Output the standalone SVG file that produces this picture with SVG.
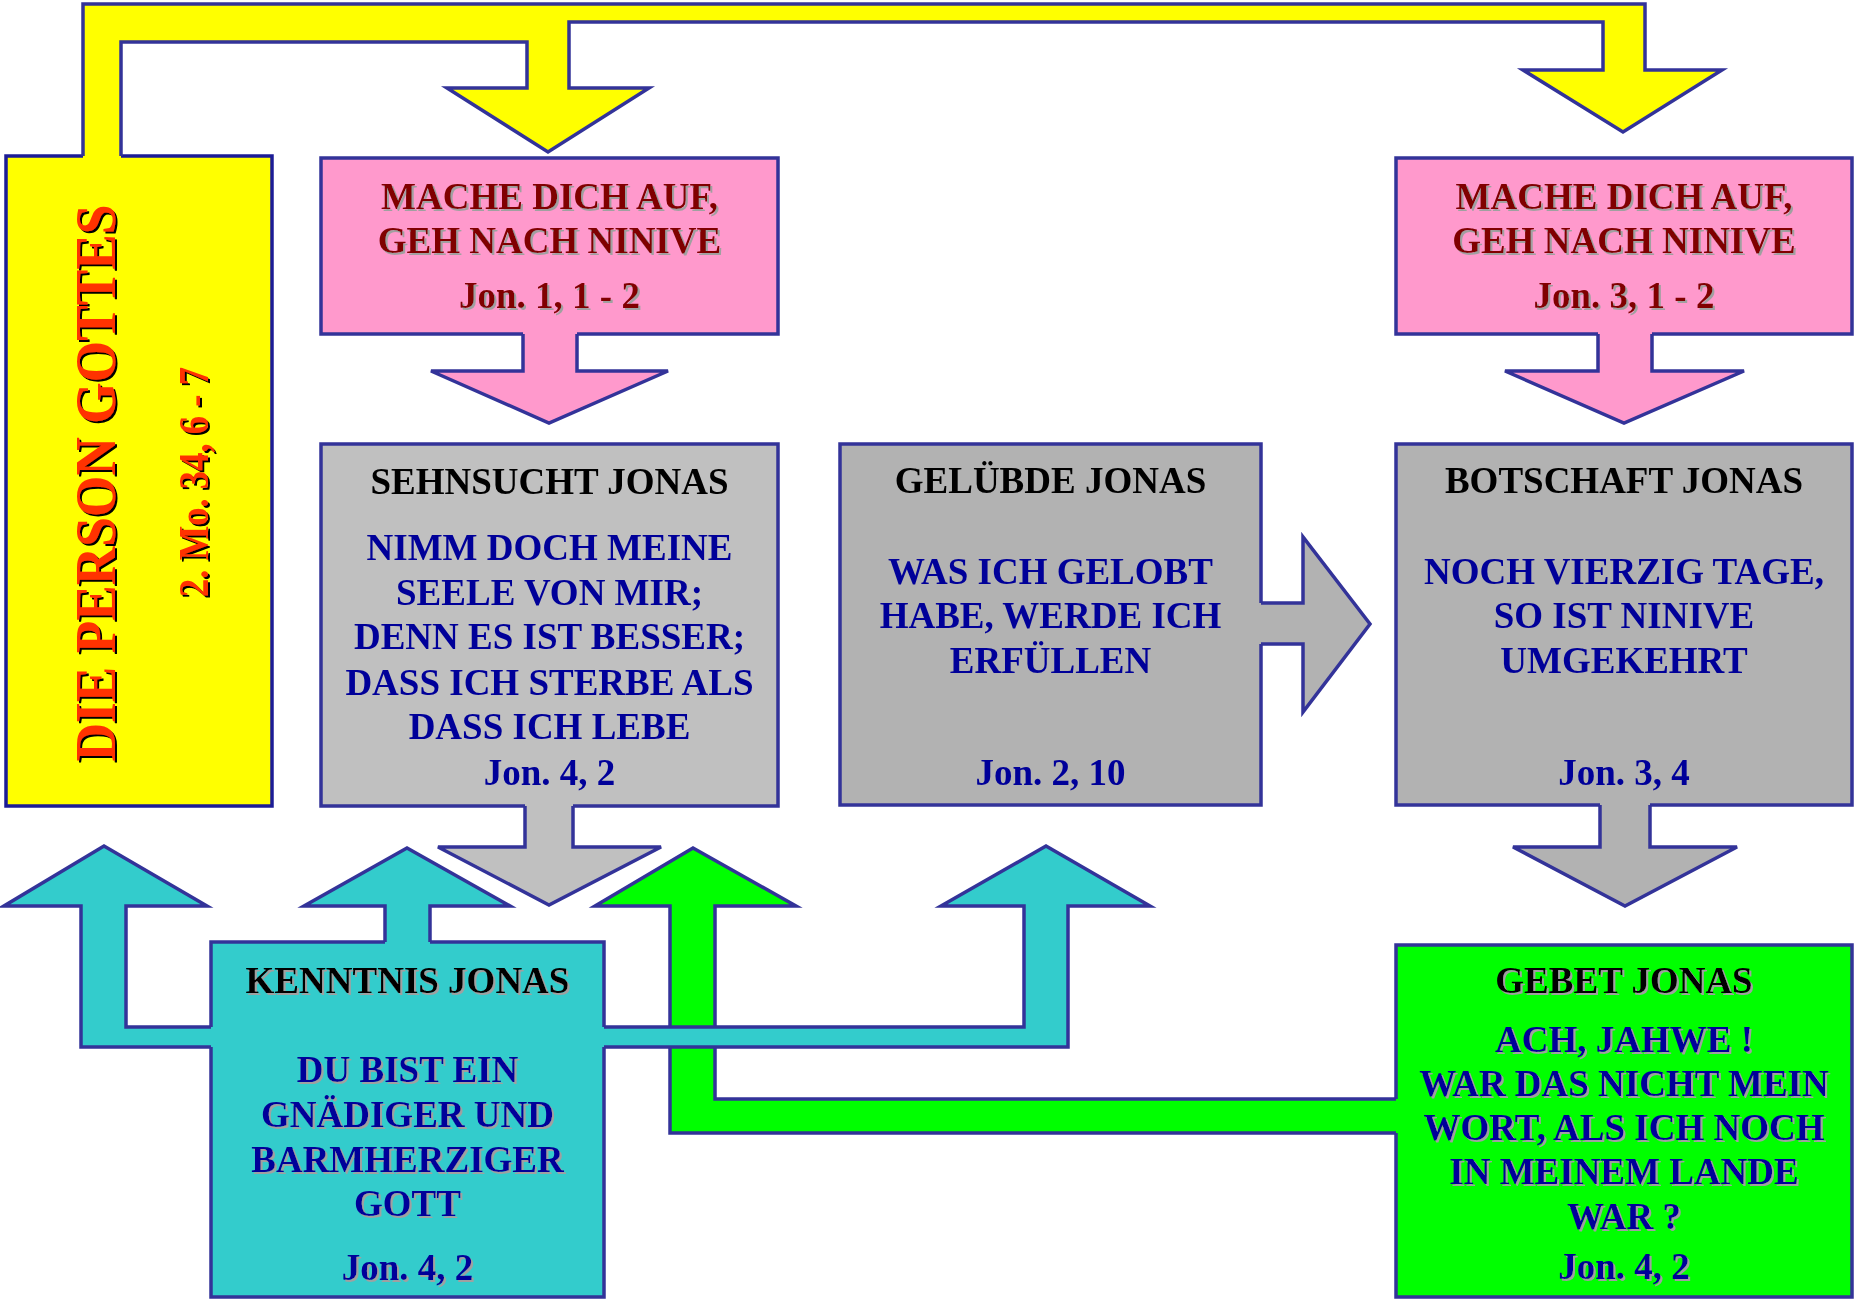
<svg xmlns="http://www.w3.org/2000/svg" width="1858" height="1302" viewBox="0 0 1858 1302">
<defs>
<filter id="sh" x="-5%" y="-20%" width="110%" height="140%">
<feDropShadow dx="2" dy="2" stdDeviation="0" flood-color="#A0A0A0" flood-opacity="1"/>
</filter>
<filter id="shd" x="-20%" y="-5%" width="140%" height="110%">
<feDropShadow dx="2" dy="2" stdDeviation="0" flood-color="#000000" flood-opacity="1"/>
</filter>
</defs>
<style>
.box{stroke:#333399;stroke-width:3.5}
.ln{fill:none;stroke:#333399;stroke-width:3.5;stroke-linejoin:miter}
.t{font-family:"Liberation Serif","Times New Roman",serif;font-weight:bold;font-size:37px;text-anchor:middle}
.hd{fill:#000000}
.bd{fill:#000099}
.rd{fill:#800000}
.vt{fill:#FF3300}
</style>
<rect width="1858" height="1302" fill="#FFFFFF"/>

<g id="node-gottes">
<rect class="box" x="6" y="156" width="266" height="650" fill="#FFFF00" style="stroke:#1C1C96"/>
<g filter="url(#shd)">
<text class="t vt" transform="translate(115,483) rotate(-90)" style="font-size:57px" textLength="557" lengthAdjust="spacingAndGlyphs">DIE PERSON GOTTES</text>
<text class="t vt" transform="translate(208,482) rotate(-90)" style="font-size:42px" textLength="230" lengthAdjust="spacingAndGlyphs">2. Mo. 34, 6 - 7</text>
</g>
</g>

<g id="node-mache1">
<rect class="box" x="321" y="158" width="457" height="176" fill="#FF99CC"/>
<g filter="url(#sh)">
<text class="t rd" x="549.5" y="209">MACHE DICH AUF,</text>
<text class="t rd" x="549.5" y="253">GEH NACH NINIVE</text>
<text class="t rd" x="549.5" y="308">Jon. 1, 1 - 2</text>
</g>
</g>

<g id="node-mache2">
<rect class="box" x="1396" y="158" width="456" height="176" fill="#FF99CC"/>
<g filter="url(#sh)">
<text class="t rd" x="1624" y="209">MACHE DICH AUF,</text>
<text class="t rd" x="1624" y="253">GEH NACH NINIVE</text>
<text class="t rd" x="1624" y="308">Jon. 3, 1 - 2</text>
</g>
</g>

<g id="node-sehnsucht">
<rect class="box" x="321" y="444" width="457" height="362" fill="#C0C0C0"/>
<text class="t hd" x="549.5" y="494">SEHNSUCHT JONAS</text>
<text class="t bd" x="549.5" y="560">NIMM DOCH MEINE</text>
<text class="t bd" x="549.5" y="605">SEELE VON MIR;</text>
<text class="t bd" x="549.5" y="649">DENN ES IST BESSER;</text>
<text class="t bd" x="549.5" y="695">DASS ICH STERBE ALS</text>
<text class="t bd" x="549.5" y="739">DASS ICH LEBE</text>
<text class="t bd" x="549.5" y="785">Jon. 4, 2</text>
</g>

<g id="node-geluebde">
<rect class="box" x="840" y="444" width="421" height="361" fill="#B2B2B2"/>
<text class="t hd" x="1050.5" y="493">GELÜBDE JONAS</text>
<text class="t bd" x="1050.5" y="584">WAS ICH GELOBT</text>
<text class="t bd" x="1050.5" y="628">HABE, WERDE ICH</text>
<text class="t bd" x="1050.5" y="673">ERFÜLLEN</text>
<text class="t bd" x="1050.5" y="785">Jon. 2, 10</text>
</g>

<g id="node-botschaft">
<rect class="box" x="1396" y="444" width="456" height="361" fill="#B2B2B2"/>
<text class="t hd" x="1624" y="493">BOTSCHAFT JONAS</text>
<text class="t bd" x="1624" y="584">NOCH VIERZIG TAGE,</text>
<text class="t bd" x="1624" y="628">SO IST NINIVE</text>
<text class="t bd" x="1624" y="673">UMGEKEHRT</text>
<text class="t bd" x="1624" y="785">Jon. 3, 4</text>
</g>

<g id="node-kenntnis">
<rect class="box" x="211" y="942" width="393" height="355" fill="#33CCCC"/>
<g filter="url(#sh)">
<text class="t hd" x="407.5" y="993">KENNTNIS JONAS</text>
<text class="t bd" x="407.5" y="1082">DU BIST EIN</text>
<text class="t bd" x="407.5" y="1127">GNÄDIGER UND</text>
<text class="t bd" x="407.5" y="1172">BARMHERZIGER</text>
<text class="t bd" x="407.5" y="1216">GOTT</text>
<text class="t bd" x="407.5" y="1280">Jon. 4, 2</text>
</g>
</g>

<g id="node-gebet">
<rect class="box" x="1396" y="945" width="456" height="352" fill="#00FF00"/>
<g filter="url(#sh)">
<text class="t hd" x="1624" y="993">GEBET JONAS</text>
<text class="t bd" x="1624" y="1052">ACH, JAHWE !</text>
<text class="t bd" x="1624" y="1096">WAR DAS NICHT MEIN</text>
<text class="t bd" x="1624" y="1140">WORT, ALS ICH NOCH</text>
<text class="t bd" x="1624" y="1184">IN MEINEM LANDE</text>
<text class="t bd" x="1624" y="1229">WAR ?</text>
<text class="t bd" x="1624" y="1279">Jon. 4, 2</text>
</g>
</g>

<g id="connectors">
<!-- yellow: Person Gottes to both commands -->
<path fill="#FFFF00" d="M83,160 L83,4 L1645,4 L1645,70 L1722,70 L1623,132 L1523,70 L1603,70 L1603,22 L569,22 L569,88 L649,88 L548,152 L447,88 L527,88 L527,42 L121,42 L121,160 Z"/>
<path class="ln" d="M83,156 L83,4 L1645,4 L1645,70 L1722,70 L1623,132 L1523,70 L1603,70 L1603,22 L569,22 L569,88 L649,88 L548,152 L447,88 L527,88 L527,42 L121,42 L121,156"/>
<!-- pink arrows -->
<path fill="#FF99CC" d="M523,330 L523,371 L431,371 L549,423 L668,371 L577,371 L577,330 Z"/>
<path class="ln" d="M523,334 L523,371 L431,371 L549,423 L668,371 L577,371 L577,334"/>
<path fill="#FF99CC" d="M1598,330 L1598,371 L1505,371 L1624,423 L1744,371 L1652,371 L1652,330 Z"/>
<path class="ln" d="M1598,334 L1598,371 L1505,371 L1624,423 L1744,371 L1652,371 L1652,334"/>
<!-- gray arrows -->
<path fill="#C0C0C0" d="M525,802 L525,847 L438,847 L549,905 L661,847 L573,847 L573,802 Z"/>
<path class="ln" d="M525,806 L525,847 L438,847 L549,905 L661,847 L573,847 L573,806"/>
<path fill="#B2B2B2" d="M1600,801 L1600,847 L1513,847 L1625,906 L1737,847 L1650,847 L1650,801 Z"/>
<path class="ln" d="M1600,805 L1600,847 L1513,847 L1625,906 L1737,847 L1650,847 L1650,805"/>
<path fill="#B2B2B2" d="M1257,603 L1303,603 L1303,537 L1370,624 L1303,712 L1303,644 L1257,644 Z"/>
<path class="ln" d="M1261,603 L1303,603 L1303,537 L1370,624 L1303,712 L1303,644 L1261,644"/>
<!-- green: Gebet -->
<path fill="#00FF00" d="M1400,1099 L715,1099 L715,906 L796,906 L693,848 L595,906 L670,906 L670,1133 L1400,1133 Z"/>
<path class="ln" d="M1396,1099 L715,1099 L715,906 L796,906 L693,848 L595,906 L670,906 L670,1133 L1396,1133"/>
<!-- teal: Kenntnis -->
<path fill="#33CCCC" d="M215,1027 L126,1027 L126,906 L207,906 L104,846 L4,906 L81,906 L81,1047 L215,1047 Z"/>
<path class="ln" d="M211,1027 L126,1027 L126,906 L207,906 L104,846 L4,906 L81,906 L81,1047 L211,1047"/>
<path fill="#33CCCC" d="M385,946 L385,906 L304,906 L407,848 L510,906 L430,906 L430,946 Z"/>
<path class="ln" d="M385,942 L385,906 L304,906 L407,848 L510,906 L430,906 L430,942"/>
<path fill="#33CCCC" d="M600,1027 L1024,1027 L1024,906 L941,906 L1046,846 L1150,906 L1068,906 L1068,1047 L600,1047 Z"/>
<path class="ln" d="M604,1027 L1024,1027 L1024,906 L941,906 L1046,846 L1150,906 L1068,906 L1068,1047 L604,1047"/>
</g>
</svg>
